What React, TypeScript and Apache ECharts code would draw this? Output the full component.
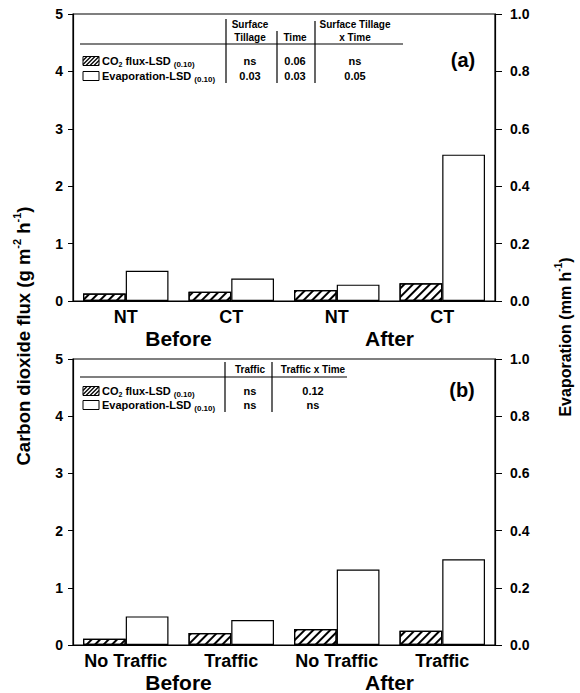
import React, { useEffect, useRef } from 'react';
import * as echarts from 'echarts';

// ---------- data ----------
const periods = ['Before', 'After'];
const categoriesA = ['NT', 'CT', 'NT', 'CT'];
const co2A = [0.13, 0.16, 0.19, 0.31];
const evapA = [0.105, 0.078, 0.057, 0.51];
const categoriesB = ['No Traffic', 'Traffic', 'No Traffic', 'Traffic'];
const co2B = [0.11, 0.21, 0.28, 0.25];
const evapB = [0.10, 0.087, 0.264, 0.30];

const co2Axis = { min: 0, max: 5, interval: 1 };
const evapAxis = { min: 0, max: 1, interval: 0.2 };

const rowLabels = ['CO2 flux-LSD', 'Evaporation-LSD'];
const lsdLevel = '(0.10)';
const tableAHeaders = [['Surface', 'Tillage'], ['Time'], ['Surface Tillage', 'x Time']];
const tableARowCO2 = ['ns', '0.06', 'ns'];
const tableARowEvap = ['0.03', '0.03', '0.05'];
const tableBHeaders = [['Traffic'], ['Traffic x Time']];
const tableBRowCO2 = ['ns', '0.12'];
const tableBRowEvap = ['ns', 'ns'];

// ---------- styles ----------
const FF = '"Liberation Sans", Arial, Helvetica, sans-serif';

function txt(text: string, x: number, y: number, size: number, align = 'center', weight = 'bold') {
  return {
    type: 'text', x, y, silent: true,
    style: {
      text, fill: '#000', fontSize: size, fontWeight: weight, fontFamily: FF,
      align, verticalAlign: 'middle', textAlign: align, textVerticalAlign: 'middle',
    },
  };
}

function line(x1: number, y1: number, x2: number, y2: number, w = 1) {
  return { type: 'line', silent: true, shape: { x1, y1, x2, y2 }, style: { stroke: '#000', lineWidth: w } };
}

function swatch(x: number, y: number, w: number, h: number, hatched: boolean) {
  const els: any[] = [
    { type: 'rect', silent: true, shape: { x, y, width: w, height: h }, style: { fill: '#fff', stroke: '#000', lineWidth: 1 } },
  ];
  if (hatched) {
    for (let k = -h; k < w; k += 4) {
      let sx = x + k, sy = y + h, ex = x + k + h, ey = y;
      if (sx < x) { const t = x - sx; sx = x; sy -= t; }
      if (ex > x + w) { const t = ex - (x + w); ex = x + w; ey += t; }
      if (ex > sx) els.push(line(sx, sy, ex, ey, 1.2));
    }
  }
  return els;
}

function rowLabel(label: string, x: number, y: number) {
  const isCO2 = label.startsWith('CO2');
  const text = isCO2
    ? `{m|CO}{sub|2}{m| flux-LSD }{s|${lsdLevel}}`
    : `{m|${label} }{s|${lsdLevel}}`;
  return {
    type: 'text', x, y, silent: true,
    style: {
      text, fill: '#000', fontFamily: FF, align: 'left', verticalAlign: 'middle',
      textAlign: 'left', textVerticalAlign: 'middle',
      rich: {
        m: { fontSize: 11, fontWeight: 'bold', fontFamily: FF, lineHeight: 14, verticalAlign: 'middle' },
        sub: { fontSize: 7, fontWeight: 'bold', fontFamily: FF, lineHeight: 8, verticalAlign: 'bottom' },
        s: { fontSize: 8, fontWeight: 'bold', fontFamily: FF, lineHeight: 13, verticalAlign: 'bottom' },
      },
    },
  };
}

function buildTable(cfg: {
  headers: string[][]; cols: number[]; vlines: number[]; vTop: number[]; vBottom: number;
  headerY: number[]; underlineY: number; underlineX2: number; rowY: number[];
  rowCO2: string[]; rowEvap: string[]; tag: string; tagX: number; tagY: number;
}) {
  const els: any[] = [];
  cfg.headers.forEach((h, i) => {
    const ys = h.length === 2 ? cfg.headerY : [cfg.headerY[cfg.headerY.length - 1]];
    h.forEach((t, j) => els.push(txt(t, cfg.cols[i], ys[j], 10)));
  });
  cfg.vlines.forEach((x, i) => els.push(line(x, cfg.vTop[i], x, cfg.vBottom, 1.2)));
  els.push(line(80, cfg.underlineY, cfg.underlineX2, cfg.underlineY, 1.2));
  els.push(...swatch(83, cfg.rowY[0] - 4.5, 16, 9, true));
  els.push(...swatch(83, cfg.rowY[1] - 4.5, 16, 9, false));
  els.push(rowLabel(rowLabels[0], 102, cfg.rowY[0]));
  els.push(rowLabel(rowLabels[1], 102, cfg.rowY[1]));
  cfg.rowCO2.forEach((v, i) => els.push(txt(v, cfg.cols[i], cfg.rowY[0], 11)));
  cfg.rowEvap.forEach((v, i) => els.push(txt(v, cfg.cols[i], cfg.rowY[1], 11)));
  els.push(txt(cfg.tag, cfg.tagX, cfg.tagY, 20));
  return els;
}

const hatchDecal = {
  symbol: 'rect', symbolSize: 1,
  dashArrayX: [1, 0], dashArrayY: [1.3, 3.3],
  rotation: -Math.PI / 4, color: '#000', backgroundColor: '#fff',
};

function makeOption() {
  const gridA = { left: 73, right: 85, top: 14, height: 287 };
  const gridB = { left: 73, right: 85, top: 359, height: 288 };

  const catAxis = (gridIndex: number, data: string[]) => ({
    type: 'category', gridIndex, data,
    axisLine: { show: true, lineStyle: { color: '#000', width: 1.2 } },
    axisTick: { show: false },
    axisLabel: { color: '#000', fontSize: 18, fontWeight: 'bold', fontFamily: FF, margin: 7, interval: 0 },
    splitLine: { show: false },
  });
  const periodAxis = (gridIndex: number) => ({
    type: 'category', gridIndex, data: periods, position: 'bottom', offset: 20,
    axisLine: { show: false }, axisTick: { show: false },
    axisLabel: { color: '#000', fontSize: 21, fontWeight: 'bold', fontFamily: FF, margin: 7 },
    splitLine: { show: false },
  });
  const leftAxis = (gridIndex: number) => ({
    type: 'value', gridIndex, position: 'left', ...co2Axis,
    axisLine: { show: true, lineStyle: { color: '#000', width: 1.2 } },
    axisTick: { show: true, inside: false, length: 5, lineStyle: { color: '#000' } },
    axisLabel: { color: '#000', fontSize: 14, fontWeight: 'bold', fontFamily: FF, margin: 10 },
    splitLine: { show: false },
  });
  const rightAxis = (gridIndex: number) => ({
    type: 'value', gridIndex, position: 'right', ...evapAxis,
    axisLine: { show: true, lineStyle: { color: '#000', width: 1.2 } },
    axisTick: { show: true, inside: false, length: 7, lineStyle: { color: '#000' } },
    axisLabel: {
      color: '#000', fontSize: 14, fontWeight: 'bold', fontFamily: FF, margin: 15,
      formatter: (v: number) => v.toFixed(1),
    },
    splitLine: { show: false },
  });

  const co2Series = (xi: number, yi: number, data: number[]) => ({
    type: 'bar', xAxisIndex: xi, yAxisIndex: yi, data,
    barGap: '0%', barCategoryGap: '19%',
    itemStyle: { color: '#fff', borderColor: '#000', borderWidth: 1.2, decal: hatchDecal },
    emphasis: { disabled: true },
  });
  const evapSeries = (xi: number, yi: number, data: number[]) => ({
    type: 'bar', xAxisIndex: xi, yAxisIndex: yi, data,
    barGap: '0%', barCategoryGap: '19%',
    itemStyle: { color: '#fff', borderColor: '#000', borderWidth: 1.2 },
    emphasis: { disabled: true },
  });

  const tableA = buildTable({
    headers: tableAHeaders, cols: [250, 295, 355], vlines: [226, 277, 315], vTop: [19, 31, 21], vBottom: 83,
    headerY: [24, 37.5], underlineY: 44, underlineX2: 403, rowY: [61, 76],
    rowCO2: tableARowCO2, rowEvap: tableARowEvap, tag: '(a)', tagX: 463, tagY: 60,
  });
  const tableB = buildTable({
    headers: tableBHeaders, cols: [250, 313], vlines: [225, 272], vTop: [362, 362], vBottom: 412,
    headerY: [369], underlineY: 377, underlineX2: 347, rowY: [391, 405],
    rowCO2: tableBRowCO2, rowEvap: tableBRowEvap, tag: '(b)', tagX: 462, tagY: 390,
  });

  const yNameLeft = {
    type: 'text', x: 22, y: 336, rotation: Math.PI / 2, silent: true,
    style: {
      text: '{m|Carbon dioxide flux (g m}{sup|-2}{m| h}{sup|-1}{m|)}',
      align: 'center', verticalAlign: 'middle', textAlign: 'center', textVerticalAlign: 'middle', fill: '#000',
      rich: {
        m: { fontSize: 18.5, fontWeight: 'bold', fontFamily: FF, lineHeight: 22, verticalAlign: 'bottom' },
        sup: { fontSize: 11, fontWeight: 'bold', fontFamily: FF, lineHeight: 13, verticalAlign: 'top' },
      },
    },
  };
  const yNameRight = {
    type: 'text', x: 563, y: 337, rotation: Math.PI / 2, silent: true,
    style: {
      text: '{m|Evaporation (mm h}{sup|-1}{m|)}',
      align: 'center', verticalAlign: 'middle', textAlign: 'center', textVerticalAlign: 'middle', fill: '#000',
      rich: {
        m: { fontSize: 16, fontWeight: 'bold', fontFamily: FF, lineHeight: 20, verticalAlign: 'bottom' },
        sup: { fontSize: 10, fontWeight: 'bold', fontFamily: FF, lineHeight: 12, verticalAlign: 'top' },
      },
    },
  };

  return {
    animation: false,
    backgroundColor: '#fff',
    grid: [
      { ...gridA, show: true, borderColor: '#000', borderWidth: 1.2, backgroundColor: 'transparent' },
      { ...gridB, show: true, borderColor: '#000', borderWidth: 1.2, backgroundColor: 'transparent' },
    ],
    xAxis: [catAxis(0, categoriesA), periodAxis(0), catAxis(1, categoriesB), periodAxis(1)],
    yAxis: [leftAxis(0), rightAxis(0), leftAxis(1), rightAxis(1)],
    series: [
      co2Series(0, 0, co2A), evapSeries(0, 1, evapA),
      co2Series(2, 2, co2B), evapSeries(2, 3, evapB),
    ],
    graphic: [...tableA, ...tableB, yNameLeft, yNameRight],
  };
}

export default function App() {
  const ref = useRef<HTMLDivElement>(null);
  useEffect(() => {
    if (!ref.current) return;
    const chart = echarts.init(ref.current, null, { renderer: 'svg' });
    chart.setOption(makeOption() as any);
    return () => chart.dispose();
  }, []);
  return (
    <div
      ref={ref}
      style={{ position: 'absolute', left: 0, top: 0, width: 580, height: 693, background: '#fff' }}
    />
  );
}
